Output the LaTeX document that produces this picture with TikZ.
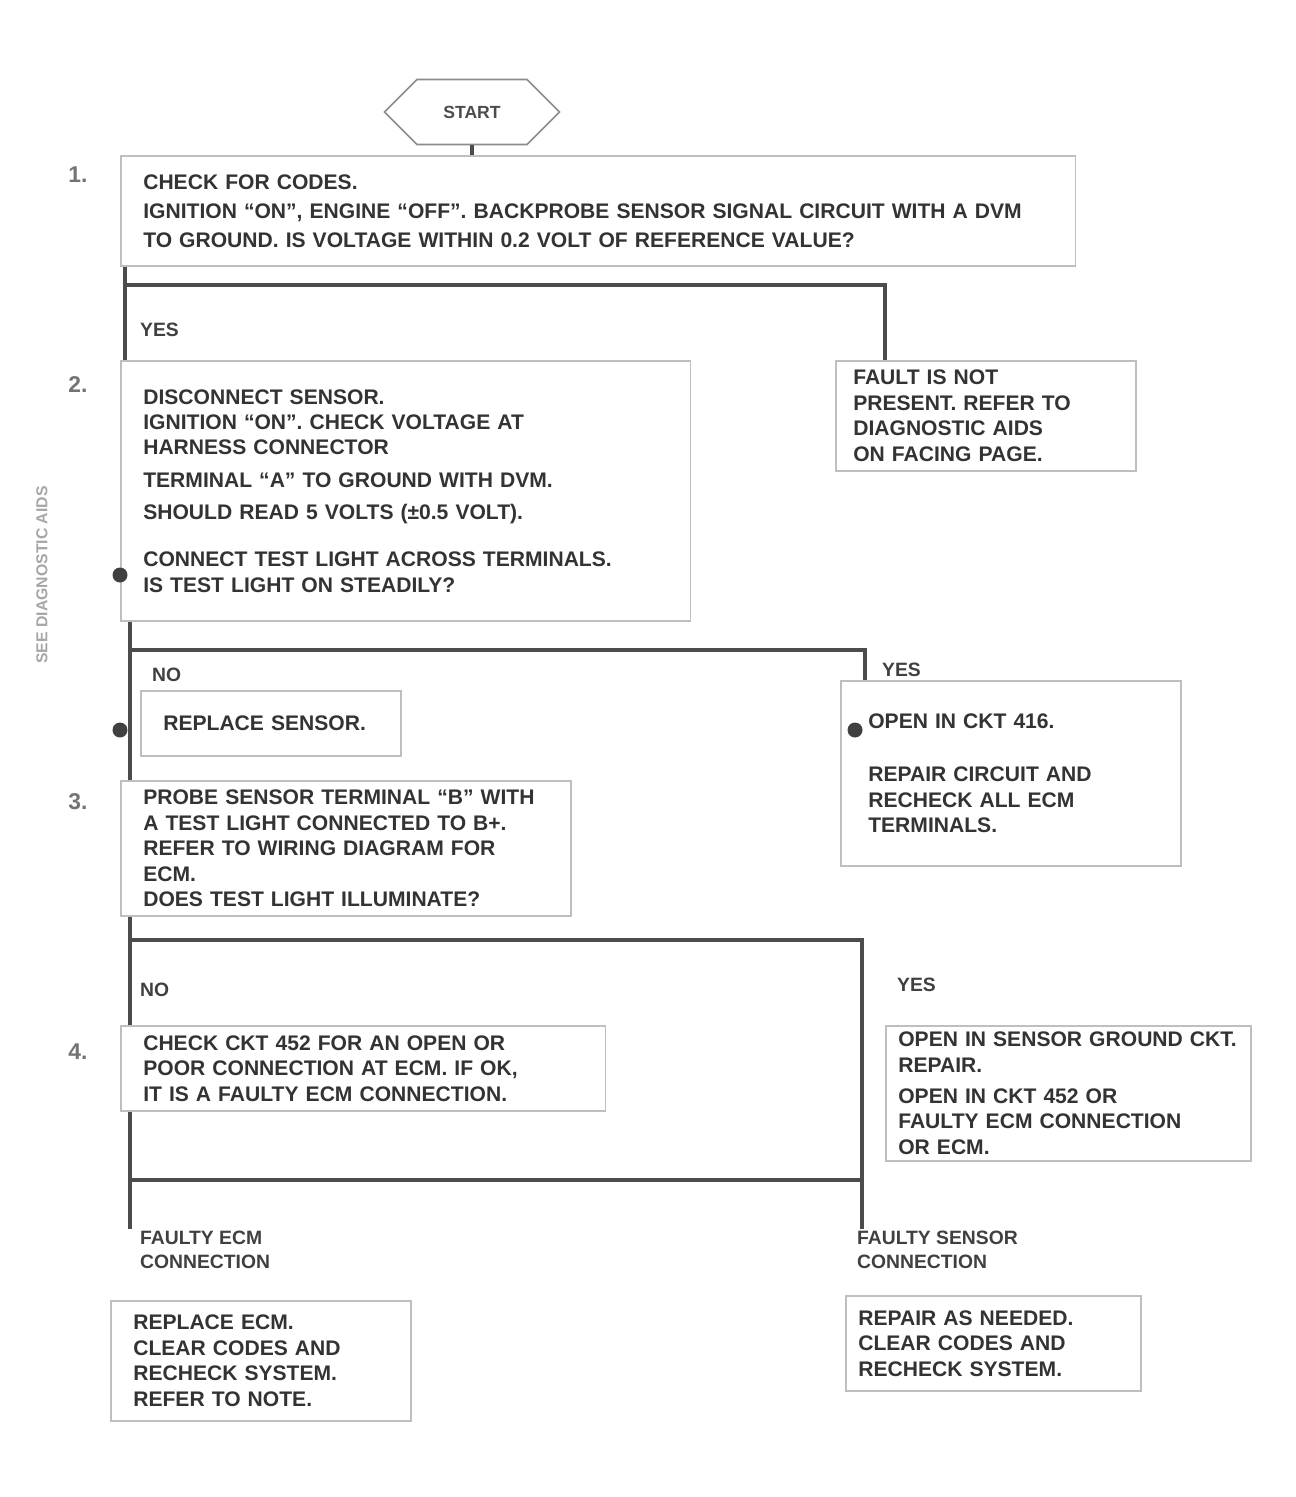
\documentclass[tikz,border=0pt]{standalone}
\usepackage{fontspec}
\setmainfont{Liberation Sans}
\usetikzlibrary{shapes.symbols}

\tikzset{
  flow/.style={line width=1.8pt, draw=black!70},
  stepbox/.style={draw=black!25, line width=0.9pt, anchor=north west, align=left,
    inner xsep=0.45cm, inner ysep=2pt, text=black!80,
    font=\bfseries\fontsize{12}{14.5}\selectfont},
  answer/.style={anchor=west, align=left, text=black!75, inner sep=1pt,
    font=\bfseries\fontsize{11}{14}\selectfont},
  stepno/.style={text=black!55, font=\bfseries\fontsize{13}{15}\selectfont},
  keydot/.style={circle, fill=black!75, inner sep=0pt, minimum size=0.3cm}
}

\begin{document}
\begin{tikzpicture}[x=0.02cm, y=-0.02cm]
    \useasboundingbox (0,0) rectangle (1295,1497);
    % start symbol
    \node[signal, signal to=west and east, draw=black!45, line width=0.9pt,
          minimum width=3.5cm, minimum height=1.3cm, text=black!70,
          font=\bfseries\fontsize{10}{12}\selectfont] (start) at (472,112) {START};

    % step boxes, left column
    \node[stepbox, text width=18.2cm, minimum height=2.2cm,
          font=\bfseries\fontsize{12}{16.5}\selectfont] (box1) at (120,155)
        {CHECK FOR CODES.\\
         IGNITION ``ON'', ENGINE ``OFF''. BACKPROBE SENSOR SIGNAL CIRCUIT WITH A DVM\\
         TO GROUND. IS VOLTAGE WITHIN 0.2 VOLT OF REFERENCE VALUE?};
    \node[stepbox, text width=10.5cm, minimum height=5.2cm] (box2) at (120,360)
        {DISCONNECT SENSOR.\\
         IGNITION ``ON''. CHECK VOLTAGE AT\\
         HARNESS CONNECTOR\\[4pt]
         TERMINAL ``A'' TO GROUND WITH DVM.\\[4pt]
         SHOULD READ 5 VOLTS (±0.5 VOLT).\\[12pt]
         CONNECT TEST LIGHT ACROSS TERMINALS.\\
         IS TEST LIGHT ON STEADILY?};
    \node[stepbox, text width=8.1cm, minimum height=2.7cm] (box3) at (120,780)
        {PROBE SENSOR TERMINAL ``B'' WITH\\
         A TEST LIGHT CONNECTED TO B+.\\
         REFER TO WIRING DIAGRAM FOR\\
         ECM.\\
         DOES TEST LIGHT ILLUMINATE?};
    \node[stepbox, text width=8.8cm, minimum height=1.7cm] (box4) at (120,1025)
        {CHECK CKT 452 FOR AN OPEN OR\\
         POOR CONNECTION AT ECM. IF OK,\\
         IT IS A FAULTY ECM CONNECTION.};
    \node[stepbox, text width=4.3cm, minimum height=1.3cm] (boxS) at (140,690)
        {REPLACE SENSOR.};
    \node[stepbox, text width=5.1cm, minimum height=2.4cm] (boxL) at (110,1300)
        {REPLACE ECM.\\
         CLEAR CODES AND\\
         RECHECK SYSTEM.\\
         REFER TO NOTE.};

    % step boxes, right column
    \node[stepbox, text width=5.3cm, minimum height=2.2cm, inner xsep=0.35cm] (boxA) at (835,360)
        {FAULT IS NOT\\
         PRESENT. REFER TO\\
         DIAGNOSTIC AIDS\\
         ON FACING PAGE.};
    \node[stepbox, text width=5.7cm, minimum height=3.7cm, inner xsep=0.55cm] (boxB) at (840,680)
        {OPEN IN CKT 416.\\[16pt]
         REPAIR CIRCUIT AND\\
         RECHECK ALL ECM\\
         TERMINALS.};
    \node[stepbox, text width=6.8cm, minimum height=2.7cm, inner xsep=0.25cm] (boxC) at (885,1025)
        {OPEN IN SENSOR GROUND CKT.\\
         REPAIR.\\[3pt]
         OPEN IN CKT 452 OR\\
         FAULTY ECM CONNECTION\\
         OR ECM.};
    \node[stepbox, text width=5.4cm, minimum height=1.9cm, inner xsep=0.25cm] (boxR) at (845,1295)
        {REPAIR AS NEEDED.\\
         CLEAR CODES AND\\
         RECHECK SYSTEM.};

    % step numbers and side note
    \node[stepno] (n1) at (78,175) {1.};
    \node[stepno] (n2) at (78,385) {2.};
    \node[stepno] (n3) at (78,802) {3.};
    \node[stepno] (n4) at (78,1052) {4.};
    \node[rotate=90, text=black!35, font=\bfseries\fontsize{9}{11}\selectfont] (side) at (42,575)
        {SEE DIAGNOSTIC AIDS};

    % answers
    \node[answer] (yes1) at (138,330) {YES};
    \node[answer] (no2) at (150,675) {NO};
    \node[answer] (yes2) at (880,670) {YES};
    \node[answer] (no3) at (138,990) {NO};
    \node[answer] (yes3) at (895,985) {YES};
    \node[answer] (lblL) at (138,1250) {FAULTY ECM\\CONNECTION};
    \node[answer] (lblR) at (855,1250) {FAULTY SENSOR\\CONNECTION};

    % junctions
    \coordinate (j1l) at (125,285);  \coordinate (j1r) at (885,285);
    \coordinate (j2l) at (130,650);  \coordinate (j2r) at (865,650);
    \coordinate (j3l) at (130,940);  \coordinate (j3r) at (862,940);
    \coordinate (j4l) at (130,1180); \coordinate (j4r) at (862,1180);

    % flow lines
    \draw[flow] (start.south) -- (start.south |- box1.north);
    \draw[flow] (box1.south -| j1l) -- (box2.north -| j1l);
    \draw[flow] (j1l) -- (j1r) -- (boxA.north -| j1r);
    \draw[flow] (box2.south -| j2l) -- (box3.north -| j2l);
    \draw[flow] (j2l) -- (j2r) -- (boxB.north -| j2r);
    \draw[flow] (box3.south -| j3l) -- (box4.north -| j3l);
    \draw[flow] (j3l) -- (j3r) -- (j4r) -- (lblR.north -| j4r);
    \draw[flow] (box4.south -| j4l) -- (lblL.north -| j4l);
    \draw[flow] (j4l) -- (j4r);

    % key dots
    \node[keydot] (k1) at (120,575) {};
    \node[keydot] (k2) at (120,730) {};
    \node[keydot] (k3) at (855,730) {};
\end{tikzpicture}
\end{document}
